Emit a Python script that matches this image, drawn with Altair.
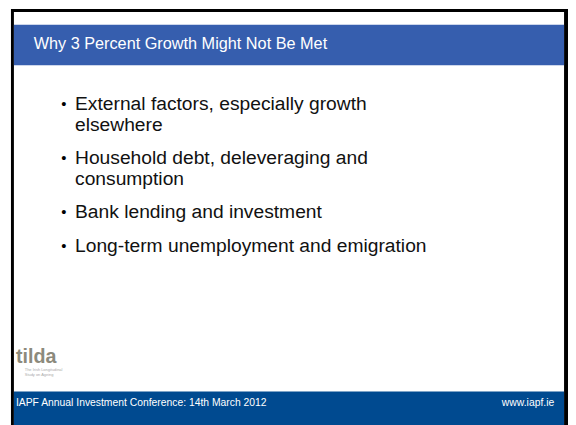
import altair as alt
import pandas as pd

# ---- content ----
title_text = ["Why 3 Percent Growth Might Not Be Met"]
bullet_lines = [
    "External factors, especially growth",
    "elsewhere",
    "Household debt, deleveraging and",
    "consumption",
    "Bank lending and investment",
    "Long-term unemployment and emigration",
]
bullet_starts = [True, False, True, False, True, True]
footer_left = ["IAPF Annual Investment Conference: 14th March 2012"]
footer_right = ["www.iapf.ie"]
logo_text = ["tilda"]
logo_sub = ["The Irish Longitudinal", "Study on Ageing"]

# ---- layout (screen pixel coordinates) ----
W, H = 576, 425
M = 8
line_y = [102, 124, 157, 179, 212, 246]

X = alt.Scale(domain=[M, W], range=[0, W - M], nice=False, zero=False)
Y = alt.Scale(domain=[M, H], range=[0, H - M], nice=False, zero=False)


def xq(f):
    return alt.X(f, type="quantitative", scale=X, axis=None)


def yq(f):
    return alt.Y(f, type="quantitative", scale=Y, axis=None)


rects = pd.DataFrame([
    {"x": 11, "x2": 576, "y": 6, "y2": 430, "c": "#000000"},
    {"x": 14, "x2": 572, "y": 9, "y2": 430, "c": "#ffffff"},
    {"x": 14, "x2": 572, "y": 22, "y2": 63, "c": "#365EAE"},
    {"x": 14, "x2": 572, "y": 394, "y2": 430, "c": "#004A90"},
])
rect_layer = alt.Chart(rects).mark_rect().encode(
    x=xq("x"), x2="x2", y=yq("y"), y2="y2",
    color=alt.Color("c:N", scale=None),
)

title_df = pd.DataFrame({"t": title_text, "x": [34], "y": [42]})
title_layer = alt.Chart(title_df).mark_text(
    align="left", baseline="middle", fontSize=16.5, color="white",
    font="Liberation Sans",
).encode(x=xq("x"), y=yq("y"), text="t:N")

lines_df = pd.DataFrame({
    "t": bullet_lines, "y": line_y, "x": [76] * len(bullet_lines),
})
lines_layer = alt.Chart(lines_df).mark_text(
    align="left", baseline="middle", fontSize=19.5, color="#111111",
    font="Liberation Sans",
).encode(x=xq("x"), y=yq("y"), text="t:N")

dots_df = pd.DataFrame({
    "t": ["•" for s in bullet_starts if s],
    "y": [y for y, s in zip(line_y, bullet_starts) if s],
    "x": [62] * sum(bullet_starts),
})
dots_layer = alt.Chart(dots_df).mark_text(
    align="left", baseline="middle", fontSize=15, color="#000000",
    font="Liberation Sans",
).encode(x=xq("x"), y=yq("y"), text="t:N")

logo_df = pd.DataFrame({"t": logo_text, "x": [16], "y": [359]})
logo_layer = alt.Chart(logo_df).mark_text(
    align="left", baseline="middle", fontSize=20, fontWeight="bold",
    color="#8C8A7C", font="Liberation Sans",
).encode(x=xq("x"), y=yq("y"), text="t:N")

logo_sub_df = pd.DataFrame({"t": logo_sub, "x": [25, 25], "y": [372, 377]})
logo_sub_layer = alt.Chart(logo_sub_df).mark_text(
    align="left", baseline="middle", fontSize=4, color="#aaaaaa",
    font="Liberation Sans",
).encode(x=xq("x"), y=yq("y"), text="t:N")

foot_df = pd.DataFrame({
    "t": footer_left + footer_right,
    "x": [16, 562], "y": [406, 406],
})
foot_l = alt.Chart(foot_df.iloc[[0]]).mark_text(
    align="left", baseline="middle", fontSize=10.5, color="white",
    font="Liberation Sans",
).encode(x=xq("x"), y=yq("y"), text="t:N")
foot_r = alt.Chart(foot_df.iloc[[1]]).mark_text(
    align="right", baseline="middle", fontSize=10.5, color="white",
    font="Liberation Sans",
).encode(x=xq("x"), y=yq("y"), text="t:N")

chart = alt.layer(
    rect_layer, title_layer, dots_layer, lines_layer,
    logo_layer, logo_sub_layer, foot_l, foot_r,
).properties(
    width=W - M, height=H - M, padding=0, autosize="none",
    background="white",
).configure_view(stroke=None)

chart.save("out.html", embed_options={"renderer": "svg", "actions": False})
